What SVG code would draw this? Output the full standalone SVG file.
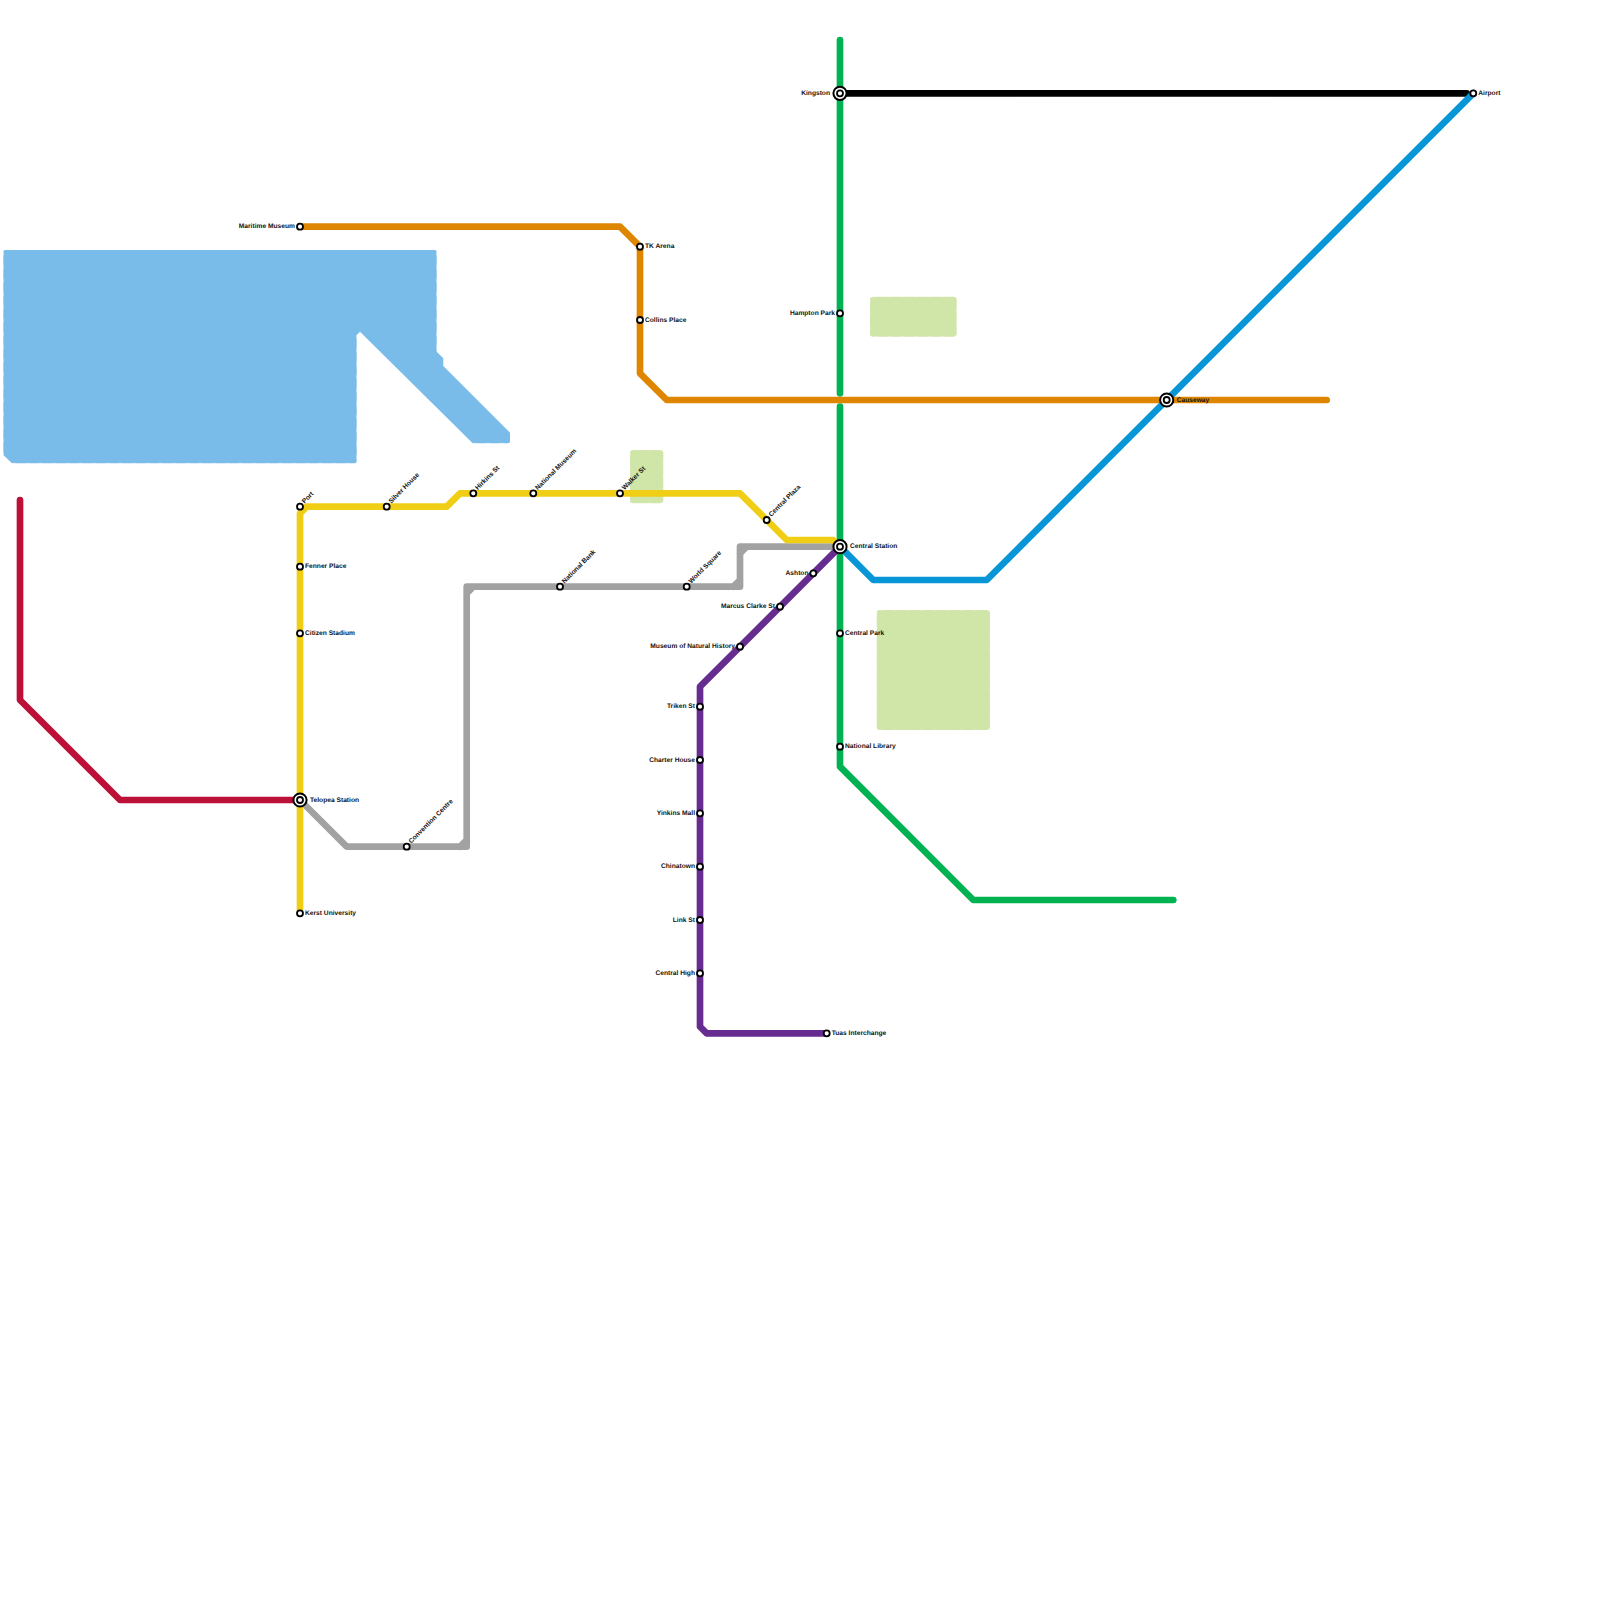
<svg xmlns="http://www.w3.org/2000/svg" width="1600" height="1600" viewBox="0 0 1600 1600">
<style>
.park{fill:#d0e5a8}
.water{fill:#7abce9}
.seam{fill:none;stroke:#fff;stroke-opacity:.5;stroke-width:.8;stroke-dasharray:4 9.330}
.ln{fill:none;stroke-width:6.67;stroke-linecap:round;stroke-linejoin:round}
.st{fill:#fff;stroke:#000;stroke-width:1.800}
.o{fill:#fff;stroke:#000;stroke-width:2}
text{font-family:"Liberation Sans",Arial,sans-serif;font-size:6.67px;font-weight:700;fill:#111;text-rendering:geometricPrecision;opacity:.999}
.e{text-anchor:end}
</style>
<g id="terrain">
<path id="water" class="water" d="M3.3 252Q3.3 250 5.300 250H434.700Q436.700 250 436.700 252V351.700L443.300 358.300V366L510 432.700V441.300Q510 443.300 508 443.300H472.700L360 331.700L356.700 335V461.300Q356.700 463.300 354.700 463.300H12L3.300 455Z"/>
<path class="seam" d="M3.300 252V455M436.700 252V351.700M356.700 335V461M12 463.300H354.700M472.700 443.300H508"/>
<rect id="park-a" class="park" x="870" y="296.700" width="86.700" height="40" rx="3"/>
<rect class="seam" x="870" y="296.700" width="86.700" height="40" rx="3"/>
<rect id="park-b" class="park" x="630" y="450" width="33.300" height="53.300" rx="3"/>
<rect class="seam" x="630" y="450" width="33.300" height="53.300" rx="3"/>
<rect id="park-c" class="park" x="876.700" y="610" width="113.300" height="120" rx="3"/>
<rect class="seam" x="876.700" y="610" width="113.300" height="120" rx="3"/>
</g>
<g id="connectors">
<path id="red" class="ln" stroke="#bd1038" d="M20 500V700L120 800H300"/>
<path id="green-a" class="ln" stroke="#00b251" d="M840 40V393.300"/>
<path id="green-b" class="ln" stroke="#00b251" d="M840 406.700V766.700L973.300 900H1173.300"/>
<path id="orange" class="ln" stroke="#df8600" d="M300 226.700H620L640 246.700V373.300L666.700 400H1326.700"/>
<path id="black" class="ln" stroke="#000" d="M840 93.300H1466.700"/>
<path id="blue" class="ln" stroke="#0896d7" d="M840 546.700L873.300 580H986.700L1473.300 93.300"/>
<path id="grey" class="ln" stroke="#a2a2a2" d="M300 800L346.700 846.700H466.700V586.700H740V546.700H840M460 846.700L466.700 840M466.700 593.300L473.300 586.700M733.300 586.700L740 580M740 553.300L746.700 546.700"/>
<path id="yellow" class="ln" stroke="#f0ce15" d="M300 913.300V513.300L306.700 506.700H446.700L460 493.300H740L786.700 540H833.300L840 546.700"/>
<path id="purple" class="ln" stroke="#662c90" d="M840 546.700L700 686.700V1026.700L706.700 1033.300H826.700"/>
</g>
<g id="n-maritime"><circle class="st" cx="300" cy="226.700" r="3"/><text class="e" x="295" y="228.200">Maritime Museum</text></g>
<g id="n-tk"><circle class="st" cx="640" cy="246.700" r="3"/><text x="645" y="248.200">TK Arena</text></g>
<g id="n-collins"><circle class="st" cx="640" cy="320" r="3"/><text x="645" y="321.500">Collins Place</text></g>
<g id="n-kingston"><circle class="o" cx="840" cy="93.300" r="6.600"/><circle class="st" cx="840" cy="93.300" r="3"/><text class="e" x="830" y="94.800">Kingston</text></g>
<g id="n-hampton"><circle class="st" cx="840" cy="313.300" r="3"/><text class="e" x="835" y="314.800">Hampton Park</text></g>
<g id="n-airport"><circle class="st" cx="1473.300" cy="93.300" r="3"/><text x="1478.300" y="94.800">Airport</text></g>
<g id="n-causeway"><circle class="o" cx="1166.700" cy="400" r="6.600"/><circle class="st" cx="1166.700" cy="400" r="3"/><text x="1176.700" y="401.500">Causeway</text></g>
<g id="n-port"><circle class="st" cx="300" cy="506.700" r="3"/><text transform="translate(304.500 503.700) rotate(-45)">Port</text></g>
<g id="n-silver"><circle class="st" cx="386.700" cy="506.700" r="3"/><text transform="translate(391.200 503.700) rotate(-45)">Silver House</text></g>
<g id="n-hirkins"><circle class="st" cx="473.300" cy="493.300" r="3"/><text transform="translate(477.800 490.300) rotate(-45)">Hirkins St</text></g>
<g id="n-natmus"><circle class="st" cx="533.300" cy="493.300" r="3"/><text transform="translate(537.800 490.300) rotate(-45)">National Museum</text></g>
<g id="n-walker"><circle class="st" cx="620" cy="493.300" r="3"/><text transform="translate(624.500 490.300) rotate(-45)">Walker St</text></g>
<g id="n-fenner"><circle class="st" cx="300" cy="566.700" r="3"/><text x="305" y="568.200">Fenner Place</text></g>
<g id="n-citizen"><circle class="st" cx="300" cy="633.300" r="3"/><text x="305" y="634.800">Citizen Stadium</text></g>
<g id="n-telopea"><circle class="o" cx="300" cy="800" r="6.600"/><circle class="st" cx="300" cy="800" r="3"/><text x="310" y="801.500">Telopea Station</text></g>
<g id="n-kerst"><circle class="st" cx="300" cy="913.300" r="3"/><text x="305" y="914.800">Kerst University</text></g>
<g id="n-convention"><circle class="st" cx="406.700" cy="846.700" r="3"/><text transform="translate(411.200 843.700) rotate(-45)">Convention Centre</text></g>
<g id="n-natbank"><circle class="st" cx="560" cy="586.700" r="3"/><text transform="translate(564.500 583.700) rotate(-45)">National Bank</text></g>
<g id="n-world"><circle class="st" cx="686.700" cy="586.700" r="3"/><text transform="translate(691.200 583.700) rotate(-45)">World Square</text></g>
<g id="n-centralplaza"><circle class="st" cx="766.700" cy="520" r="3"/><text transform="translate(771.200 517) rotate(-45)">Central Plaza</text></g>
<g id="n-central"><circle class="o" cx="840" cy="546.700" r="6.600"/><circle class="st" cx="840" cy="546.700" r="3"/><text x="850" y="548.200">Central Station</text></g>
<g id="n-ashton"><circle class="st" cx="813.300" cy="573.300" r="3"/><text class="e" x="808.500" y="574.800">Ashton</text></g>
<g id="n-marcus"><circle class="st" cx="780" cy="606.700" r="3"/><text class="e" x="775" y="608.200">Marcus Clarke St</text></g>
<g id="n-museum"><circle class="st" cx="740" cy="646.700" r="3"/><text class="e" x="735" y="648.200">Museum of Natural History</text></g>
<g id="n-centralpark"><circle class="st" cx="840" cy="633.300" r="3"/><text x="845" y="634.800">Central Park</text></g>
<g id="n-library"><circle class="st" cx="840" cy="746.700" r="3"/><text x="845" y="748.200">National Library</text></g>
<g id="n-triken"><circle class="st" cx="700" cy="706.700" r="3"/><text class="e" x="695" y="708.200">Triken St</text></g>
<g id="n-charter"><circle class="st" cx="700" cy="760" r="3"/><text class="e" x="695" y="761.500">Charter House</text></g>
<g id="n-yinkins"><circle class="st" cx="700" cy="813.300" r="3"/><text class="e" x="695" y="814.800">Yinkins Mall</text></g>
<g id="n-chinatown"><circle class="st" cx="700" cy="866.700" r="3"/><text class="e" x="695" y="868.200">Chinatown</text></g>
<g id="n-link"><circle class="st" cx="700" cy="920" r="3"/><text class="e" x="695" y="921.500">Link St</text></g>
<g id="n-centralhigh"><circle class="st" cx="700" cy="973.300" r="3"/><text class="e" x="695" y="974.800">Central High</text></g>
<g id="n-tuas"><circle class="st" cx="826.700" cy="1033.300" r="3"/><text x="831.700" y="1034.800">Tuas Interchange</text></g>
</svg>
